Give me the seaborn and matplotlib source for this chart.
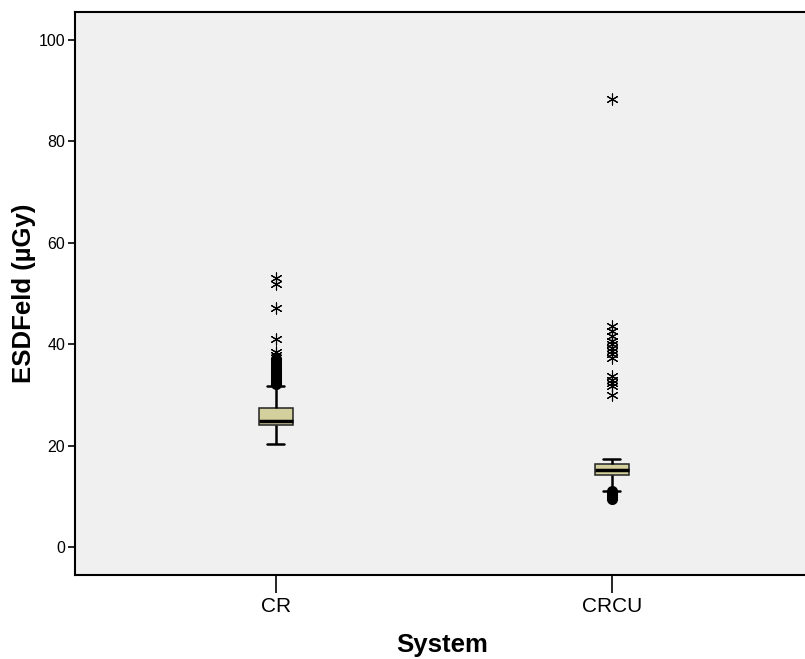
import numpy as np
import pandas as pd
import seaborn as sns
import matplotlib.pyplot as plt

systems = ["CR", "CRCU"]
# five-number summary
whisker_low = [20.4, 11.1]
q1 = [24.1, 14.2]
median = [24.9, 15.2]
q3 = [27.4, 16.3]
whisker_high = [31.8, 17.3]

# outliers (circles) and extremes (stars)
cr_outliers = [32.2, 32.6, 33.0, 33.4, 33.8, 34.2, 34.6, 35.0, 35.4, 35.8, 36.2, 36.6, 37.0]
cr_extremes = [37.9, 38.4, 41.1, 47.2, 51.8, 53.0]
crcu_outliers = [11.0, 10.6, 10.2, 9.8, 9.5]
crcu_extremes = [43.5, 42.6, 41.6, 40.6, 40.0, 39.3, 38.6, 38.0, 37.3,
                 33.7, 33.0, 32.4, 31.7, 30.0, 88.3]

yticks = [0, 20, 40, 60, 80, 100]

sns.set_style("white")
plt.rcParams['font.family'] = ['Liberation Sans', 'DejaVu Sans']
plt.rcParams['text.color'] = 'black'
plt.rcParams['axes.labelcolor'] = 'black'
plt.rcParams['xtick.color'] = 'black'
plt.rcParams['ytick.color'] = 'black'

box_rows = []
for i, s in enumerate(systems):
    for v in [whisker_low[i], q1[i], median[i], q3[i], whisker_high[i]]:
        box_rows.append({"System": s, "value": v})
box_df = pd.DataFrame(box_rows)

out_df = pd.DataFrame({"System": ["CR"] * len(cr_outliers) + ["CRCU"] * len(crcu_outliers),
                       "value": cr_outliers + crcu_outliers})
ext_df = pd.DataFrame({"System": ["CR"] * len(cr_extremes) + ["CRCU"] * len(crcu_extremes),
                       "value": cr_extremes + crcu_extremes})

fig = plt.figure(figsize=(8.05, 6.59), dpi=100)
ax = fig.add_axes([75 / 805, 1 - 575 / 659, 735 / 805, (575 - 12) / 659])
ax.set_facecolor("#f0f0f0")

sns.boxplot(data=box_df, x="System", y="value", order=systems, whis=np.inf,
            showfliers=False, width=0.101, color="#d4d09e", ax=ax,
            boxprops=dict(facecolor="#d4d09e", edgecolor="#222222", linewidth=1.1),
            medianprops=dict(color="black", linewidth=2.5),
            whiskerprops=dict(color="black", linewidth=1.8),
            capprops=dict(color="black", linewidth=1.8),
            capwidths=0.05)

sns.stripplot(data=out_df, x="System", y="value", order=systems, jitter=False,
              marker="o", color="black", size=8, linewidth=0, ax=ax, zorder=4)
sns.stripplot(data=ext_df, x="System", y="value", order=systems, jitter=False,
              marker=(6, 2, 0), color="black", edgecolor="black", size=8,
              linewidth=0.8, ax=ax, zorder=4)

ax.set_xlim(-0.598, -0.598 + 2.176 * 735 / 731)
ax.set_ylim(-5.5, 105.5)
ax.set_yticks(yticks)
ax.set_yticklabels([str(t) for t in yticks], fontsize=11.5)
ax.tick_params(axis="y", direction="out", length=5, width=1.2, left=True, pad=2)
ax.tick_params(axis="x", direction="out", length=13, width=1.2, bottom=True, labelsize=15, pad=3)

for side in ["left", "bottom", "top", "right"]:
    ax.spines[side].set_color("black")
    ax.spines[side].set_linewidth(1.5)

ax.set_xlabel("System", fontsize=18.5, fontweight="bold", labelpad=12)
ax.set_ylabel("ESDFeld (µGy)", fontsize=18.5, fontweight="bold", labelpad=2)

fig.savefig("out.png", dpi=100)
